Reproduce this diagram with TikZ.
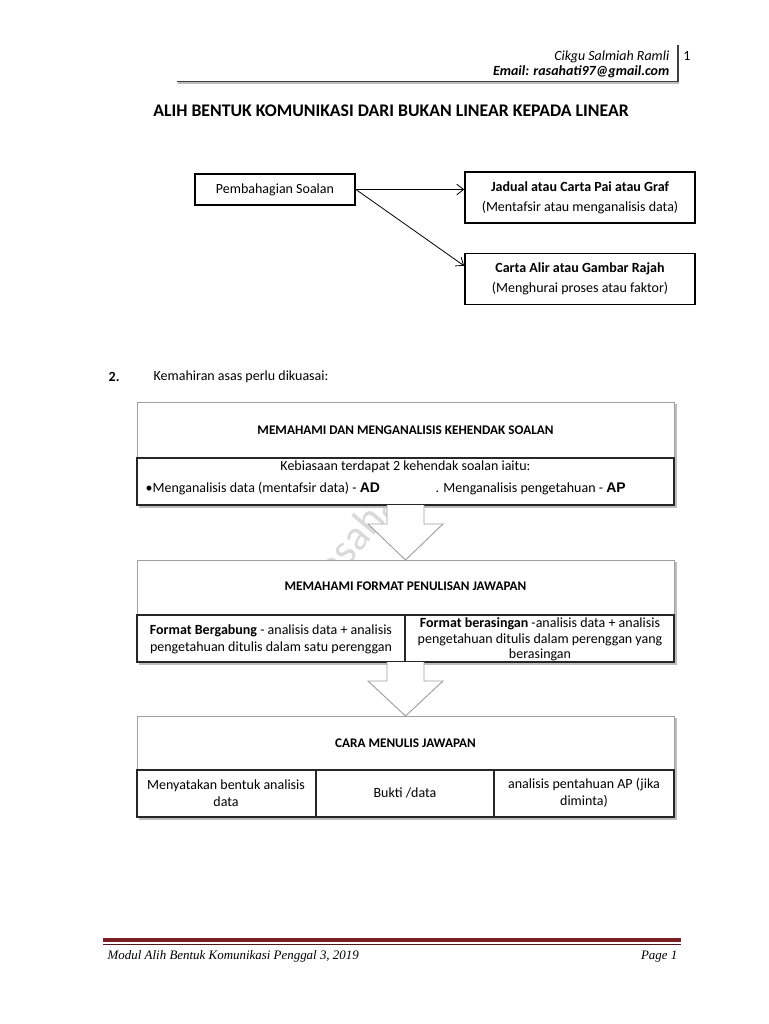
\documentclass[tikz,border=0pt]{standalone}
\usepackage{fontspec}
\setmainfont{Carlito}
\newfontfamily\footfont{Liberation Serif}
\newfontfamily\arialfont{Liberation Sans}
\usetikzlibrary{calc,arrows.meta}
\definecolor{footred}{HTML}{7B2126}
\definecolor{boxgray}{HTML}{A0A0A0}
\definecolor{shadowgray}{HTML}{BDBDBD}
\definecolor{wmgray}{HTML}{D9D9D9}
\tikzset{
  tbox/.style={draw=black, line width=1.4pt, inner sep=0pt, align=center,
    minimum width=172.5pt, minimum height=38.25pt, font=\fontsize{10.5}{15}\selectfont},
  conn/.style={line width=0.6pt, -{Straight Barb[length=5pt,width=8pt]}},
  outerbox/.style={draw=boxgray, fill=white, line width=0.7pt},
  subbox/.style={draw=black!85, fill=white, line width=0.8pt},
  shade/.style={fill=shadowgray, draw=none},
  head/.style={font=\bfseries\fontsize{9.9}{12}\selectfont},
  cell/.style={font=\fontsize{10.5}{13}\selectfont, align=center},
  blockarrow/.style={draw=boxgray, fill=white, line width=0.7pt, line join=miter},
  wm/.style={text=wmgray, font=\fontsize{32}{32}\selectfont, rotate=50, anchor=base west, inner sep=0pt}
}
\newcommand{\AD}[1]{{\arialfont\bfseries #1}}
\begin{document}
\begin{tikzpicture}[x=0.75pt,y=-0.75pt]
\useasboundingbox (0,0) rectangle (768,1024);
\fill[white] (0,0) rectangle (768,1024);

% header
\node[anchor=east, font=\itshape\fontsize{10.5}{12}\selectfont] (hname) at (674,57) {Cikgu Salmiah Ramli};
\node[anchor=east, font=\bfseries\itshape\fontsize{10.5}{12}\selectfont] (hmail) at (674,72) {Email: rasahati97@gmail.com};
\coordinate (hl) at (177,81.5);
\coordinate (hr) at (678,81.5);
\coordinate (vt) at (678,45);
\draw[shadowgray, line width=1pt] ($(hl)+(1,1.5)$) -- ($(hr)+(1,1.5)$);
\draw[black!75, line width=0.8pt] (hl) -- (hr) -- (vt);
\node[font=\fontsize{10.5}{12}\selectfont] (pnum) at (687,56) {1};

% title
\node[font=\bfseries\fontsize{13.3}{15}\selectfont] (title) at (391,111) {ALIH BENTUK KOMUNIKASI DARI BUKAN LINEAR KEPADA LINEAR};

% top boxes
\node[tbox, minimum width=120pt, minimum height=23.25pt] (pemb) at (275,189.5) {Pembahagian Soalan};
\node[tbox] (jadual) at (580,197.5) {\textbf{Jadual atau Carta Pai atau Graf}\\(Mentafsir atau menganalisis data)};
\node[tbox] (carta) at (580,279) {\textbf{Carta Alir atau Gambar Rajah}\\(Menghurai proses atau faktor)};
\draw[conn] (pemb.east) -- (pemb.east -| jadual.west);
\draw[conn] (pemb.east) -- ($(carta.north west)!0.25!(carta.south west)$);

% section 2
\node[anchor=west, font=\bfseries\fontsize{10.5}{12}\selectfont] (num) at (104,377) {2.};
\node[anchor=west, font=\fontsize{10.5}{12}\selectfont] (kem) at (149,377) {Kemahiran asas perlu dikuasai:};

% watermark
\node[wm] (wmark) at (326.5,593) {rasahati};

% ---- box 1
\fill[shade] (139,404) rectangle (676.5,507.5);
\draw[outerbox] (137,402) rectangle (674,505);
\fill[shade] (139,460) rectangle (676.5,507.5);
\draw[subbox] (137,458) rectangle (674,505);
\coordinate (b1bot) at (405.5,505);
\node[head] (h1) at (405.5,430) {MEMAHAMI DAN MENGANALISIS KEHENDAK SOALAN};
\node[cell] (k1) at (405.5,467) {Kebiasaan terdapat 2 kehendak soalan iaitu:};
\node[cell, anchor=west] (ad) at (141,489) {\textbullet Menganalisis data (mentafsir data) - \AD{AD}};
\node[cell, anchor=west] (ap) at (431,489) {. Menganalisis pengetahuan - \AD{AP}};

% ---- box 2
\coordinate (b2top) at (405.5,560);
\fill[shade] (139,562) rectangle (676.5,664.5);
\draw[outerbox] (137,560) rectangle (674,662);
\fill[shade] (139,617) rectangle (676.5,664.5);
\draw[subbox] (137,615) rectangle (674,662);
\draw[black!85, line width=0.8pt] (405,615) -- (405,662);
\coordinate (b2bot) at (405.5,662);
\node[head] (h2) at (405.5,586) {MEMAHAMI FORMAT PENULISAN JAWAPAN};
\node[cell] (c21) at (271,639) {\textbf{Format Bergabung} - analisis data + analisis\\pengetahuan ditulis dalam satu perenggan};
\node[cell, font=\fontsize{10.5}{11.6}\selectfont] (c22) at (540,639.5) {\textbf{Format berasingan} -analisis data + analisis\\pengetahuan ditulis dalam perenggan yang\\berasingan};

% ---- box 3
\coordinate (b3top) at (405.5,716);
\fill[shade] (139,718) rectangle (676.5,819.5);
\draw[outerbox] (137,716) rectangle (674,817);
\fill[shade] (139,772) rectangle (676.5,819.5);
\draw[subbox] (137,770) rectangle (674,817);
\draw[black!85, line width=0.8pt] (316,770) -- (316,817) (494,770) -- (494,817);
\node[head] (h3) at (405.5,743) {CARA MENULIS JAWAPAN};
\node[cell] (c31) at (226,793) {Menyatakan bentuk analisis\\data};
\node[cell] (c32) at (405,793) {Bukti /data};
\node[cell] (c33) at (584,793) {analisis pentahuan AP (jika\\diminta)};

% block arrows
\draw[blockarrow] ($(b1bot)+(-18.5,0)$) -- ($(b1bot)+(-18.5,19)$) -- ($(b1bot)+(-37.5,19)$)
  -- (b2top) -- ($(b1bot)+(37.5,19)$) -- ($(b1bot)+(18.5,19)$) -- ($(b1bot)+(18.5,0)$);
\draw[blockarrow] ($(b2bot)+(-18.5,0)$) -- ($(b2bot)+(-18.5,19)$) -- ($(b2bot)+(-37.5,19)$)
  -- (b3top) -- ($(b2bot)+(37.5,19)$) -- ($(b2bot)+(18.5,19)$) -- ($(b2bot)+(18.5,0)$);

% footer
\draw[footred, line width=3pt] (103,940) -- (681,940);
\draw[footred!70!black, line width=0.7pt] (103,944.5) -- (681,944.5);
\node[anchor=base west, font=\footfont\itshape\fontsize{9.7}{12}\selectfont] (ftl) at (103,959) {Modul Alih Bentuk Komunikasi Penggal 3, 2019};
\node[anchor=base east, font=\footfont\itshape\fontsize{9.7}{12}\selectfont] (ftr) at (682,959) {Page 1};
\end{tikzpicture}
\end{document}
